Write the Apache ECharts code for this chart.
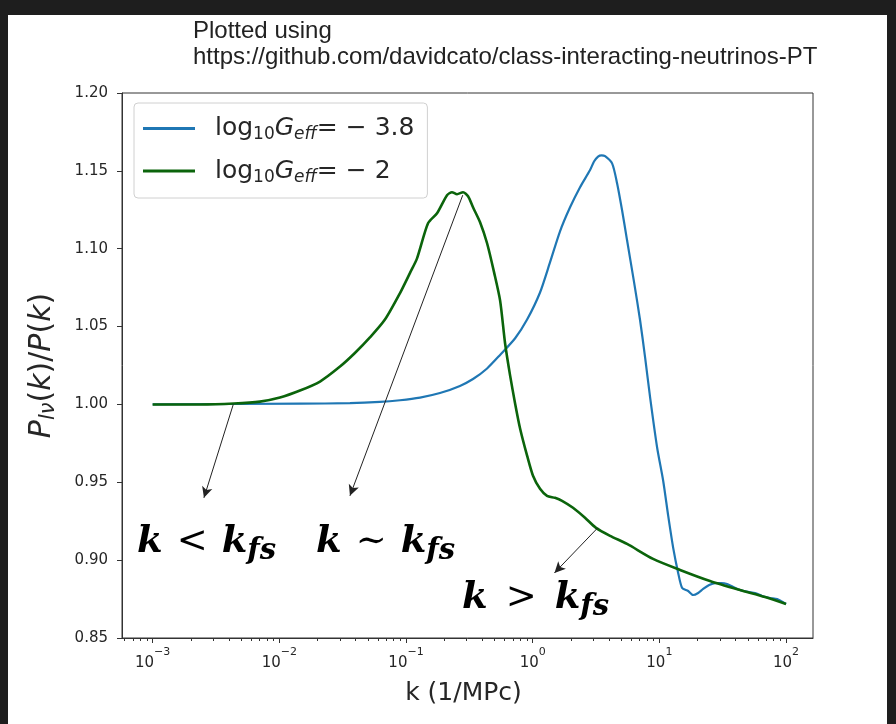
<!DOCTYPE html>
<html>
<head>
<meta charset="utf-8">
<script src="https://cdn.jsdelivr.net/npm/echarts@6/dist/echarts.min.js"></script>
<style>
  html, body { margin: 0; padding: 0; background: #1e1e1e; }
  #chart { width: 896px; height: 724px; }
</style>
</head>
<body>
<div id="chart"></div>
<script>
// log10 G_eff = -3.8 (blue)
const kBlue = [0.001, 0.01455, 0.0361, 0.0622, 0.0897, 0.1291, 0.1854, 0.2665, 0.3381, 0.4365, 0.553,
  0.727, 0.9036, 1.143, 1.37, 1.644, 1.973, 2.366, 2.838, 3.05, 3.281, 3.5,
  3.729, 4.236, 4.637, 5.079, 5.561, 6.319, 7.05, 7.722, 8.458, 9.61,
  10.72, 11.75, 12.86, 14.08, 15.14, 16.88, 18.49, 20.25, 22.18, 24.73,
  27.58, 30.8, 34.3, 38.3, 43.3, 50.2, 57.0, 64.7, 74.9, 85.1, 100]
const ratioBlue = [1.000, 1.0005, 1.0008, 1.0016, 1.0027, 1.0044, 1.0073, 1.0119, 1.0163, 1.0231, 1.0318,
  1.0425, 1.0545, 1.0719, 1.0912, 1.1112, 1.1266, 1.1395, 1.1505, 1.156, 1.1592, 1.16,
  1.1594, 1.1548, 1.1421, 1.1247, 1.1054, 1.0784, 1.0539, 1.0301, 1.0044, 0.9722,
  0.951, 0.9284, 0.9079, 0.8918, 0.8821, 0.8802, 0.8776, 0.8789, 0.8815, 0.884,
  0.8853, 0.8853, 0.8847, 0.8828, 0.8808, 0.8796, 0.8789, 0.877, 0.8757, 0.875, 0.8718]

// log10 G_eff = -2 (green)
const kGreen = [0.001, 0.00236, 0.00438, 0.00703, 0.01012, 0.01455, 0.02094, 0.03013, 0.0395, 0.0519,
  0.0682, 0.0897, 0.1076, 0.1222, 0.1493, 0.1758, 0.2109, 0.2307, 0.2529, 0.282,
  0.309, 0.3381, 0.3843, 0.4365, 0.4959, 0.553, 0.6058, 0.6637, 0.727, 0.7962,
  0.9036, 1.006, 1.143, 1.298, 1.5, 1.706, 2.081, 2.589, 3.162, 4.083,
  5.561, 8.92, 14.57, 25.1, 43.3, 68.3, 100]
const ratioGreen = [1.000, 1.000, 1.0006, 1.0018, 1.0044, 1.0089, 1.0147, 1.0243, 1.033, 1.043,
  1.0545, 1.0715, 1.0845, 1.0938, 1.1163, 1.1228, 1.1344, 1.1363, 1.135, 1.1363,
  1.1337, 1.1266, 1.117, 1.1035, 1.0848, 1.0668, 1.0391, 1.0185, 1.0005, 0.9844,
  0.9671, 0.9542, 0.9458, 0.9413, 0.94, 0.9381, 0.9336, 0.9272, 0.9207, 0.9156,
  0.9104, 0.9008, 0.8937, 0.8866, 0.8808, 0.8763, 0.8718]

const xMajor = [0.001, 0.01, 0.1, 1, 10, 100]
const xExp = ['−3', '−2', '−1', '0', '1', '2']
const yTicks = [0.85, 0.90, 0.95, 1.00, 1.05, 1.10, 1.15, 1.20]

// arrows: [k, ratio] tail -> head
const arrowTail = [[0.00433, 1.0], [0.2805, 1.1344], [3.26, 0.9207]]
const arrowHead = [[0.00254, 0.940], [0.0361, 0.9413], [1.486, 0.8918]]

const xMin = Math.pow(10, -3.242)
const xMax = Math.pow(10, 2.213)

const xMinor = []
for (let d = -4; d <= 2; d++) {
  for (let m = 2; m <= 9; m++) {
    const v = m * Math.pow(10, d)
    if (v > xMin && v < xMax) xMinor.push(v)
  }
}

const chart = echarts.init(document.getElementById('chart'))

const pairs = (xs, ys) => xs.map((x, i) => [x, ys[i]])

const txt = '#262626'

const subRich = {
  n: { fontFamily: 'DejaVu Sans', fontSize: 25, color: txt, lineHeight: 30 },
  sub: { fontFamily: 'DejaVu Sans', fontSize: 17, color: txt, lineHeight: 14, verticalAlign: 'bottom' },
  it: { fontFamily: 'DejaVu Sans', fontStyle: 'italic', fontSize: 25, color: txt, lineHeight: 30 },
  itsub: { fontFamily: 'DejaVu Sans', fontStyle: 'italic', fontSize: 17, color: txt, lineHeight: 14, verticalAlign: 'bottom' },
  gap: { width: 15 }
}

const mathFont = 'DejaVu Serif'
const mathRich = {
  k: { fontFamily: mathFont, fontStyle: 'italic', fontWeight: 'bold', fontSize: 37, color: '#111', lineHeight: 46 },
  op: { fontFamily: mathFont, fontSize: 37, color: '#111', lineHeight: 46, padding: [0, 14, 0, 14] },
  wide: { fontFamily: mathFont, fontSize: 37, color: '#111', lineHeight: 46, padding: [0, 18, 0, 18] },
  fs: { fontFamily: mathFont, fontStyle: 'italic', fontWeight: 'bold', fontSize: 29, color: '#111', lineHeight: 22, verticalAlign: 'bottom' }
}

const option = {
  animation: false,
  backgroundColor: '#1e1e1e',
  graphic: [
    { type: 'rect', z: -10, shape: { x: 8, y: 15, width: 879, height: 709 }, style: { fill: '#fff' } },
    { type: 'text', left: 193, top: 19, style: { text: 'Plotted using', font: '24px "Liberation Sans"', fill: '#222' } },
    { type: 'text', left: 193, top: 45, style: { text: 'https://github.com/davidcato/class-interacting-neutrinos-PT', font: '24px "Liberation Sans"', fill: '#222' } },
    { type: 'text', left: 137, top: 524, style: { text: '{k|k}{op|<}{k|k}{fs|fs}', rich: mathRich } },
    { type: 'text', left: 316, top: 524, style: { text: '{k|k}{op|∼}{k|k}{fs|fs}', rich: mathRich } },
    { type: 'text', left: 462, top: 580, style: { text: '{k|k}{wide|>}{k|k}{fs|fs}', rich: mathRich } }
  ],
  grid: { left: 122, top: 93, width: 691, height: 545, show: true, borderColor: '#333', borderWidth: 1, backgroundColor: '#fff' },
  legend: {
    orient: 'vertical',
    left: 134,
    top: 103,
    padding: [13, 13, 12, 9],
    itemGap: 15,
    itemWidth: 52,
    itemHeight: 3,
    icon: 'rect',
    backgroundColor: '#fff',
    borderColor: '#d0d0d0',
    borderWidth: 1,
    borderRadius: 4,
    data: ['blue', 'green'],
    formatter: name => name === 'blue'
      ? '{gap|}{n|log}{sub|10}{it|G}{itsub|eff}{n|= − 3.8}'
      : '{gap|}{n|log}{sub|10}{it|G}{itsub|eff}{n|= − 2}',
    textStyle: { rich: subRich }
  },
  xAxis: [
    {
      type: 'log',
      min: xMin,
      max: xMax,
      name: 'k (1/MPc)',
      nameLocation: 'middle',
      nameGap: 43,
      nameTextStyle: { fontFamily: 'DejaVu Sans', fontSize: 25, color: txt, padding: [0, 8, 0, 0] },
      axisLine: { onZero: false, lineStyle: { color: '#333', width: 1 } },
      axisTick: { customValues: xMajor, length: 5, lineStyle: { color: '#333' } },
      splitLine: { show: false },
      minorTick: { show: false },
      axisLabel: {
        customValues: xMajor,
        margin: 9,
        formatter: v => {
          const i = xMajor.findIndex(m => Math.abs(Math.log10(m) - Math.log10(v)) < 1e-6)
          return '{b|10}{e|' + xExp[i] + '}'
        },
        rich: {
          b: { fontFamily: 'DejaVu Sans', fontSize: 15, color: txt, lineHeight: 20, verticalAlign: 'bottom' },
          e: { fontFamily: 'DejaVu Sans', fontSize: 11, color: txt, lineHeight: 24, verticalAlign: 'top' }
        }
      }
    },
    {
      type: 'log',
      min: xMin,
      max: xMax,
      position: 'bottom',
      axisLine: { show: false },
      axisTick: { customValues: xMinor, length: 3, lineStyle: { color: '#333' } },
      axisLabel: { show: false },
      splitLine: { show: false }
    }
  ],
  yAxis: {
    type: 'value',
    min: 0.85,
    max: 1.20,
    interval: 0.05,
    name: '{i|P}{s|lν}{n|(}{i|k}{n|)/}{i|P}{n|(}{i|k}{n|)}',
    nameLocation: 'middle',
    nameRotate: 90,
    nameGap: 63,
    nameTextStyle: {
      rich: {
        i: { fontFamily: 'DejaVu Sans', fontStyle: 'italic', fontSize: 30, color: txt, lineHeight: 34 },
        n: { fontFamily: 'DejaVu Sans', fontSize: 30, color: txt, lineHeight: 34 },
        s: { fontFamily: 'DejaVu Sans', fontStyle: 'italic', fontSize: 21, color: txt, lineHeight: 17, verticalAlign: 'bottom' }
      }
    },
    axisLine: { show: true, lineStyle: { color: '#333', width: 1 } },
    axisTick: { show: true, length: 5, lineStyle: { color: '#333' } },
    splitLine: { show: false },
    axisLabel: {
      margin: 14,
      fontFamily: 'DejaVu Sans',
      fontSize: 15,
      color: txt,
      formatter: v => v.toFixed(2)
    }
  },
  series: [
    {
      name: 'blue',
      type: 'line',
      data: pairs(kBlue, ratioBlue),
      showSymbol: false,
      symbol: 'none',
      smooth: 0.25,
      itemStyle: { color: '#1f77b4' },
      lineStyle: { width: 2.2, color: '#1f77b4' }
    },
    {
      name: 'green',
      type: 'line',
      data: pairs(kGreen, ratioGreen),
      showSymbol: false,
      symbol: 'none',
      smooth: 0.25,
      itemStyle: { color: '#0b640b' },
      lineStyle: { width: 2.6, color: '#0b640b' },
      markLine: {
        silent: true,
        animation: false,
        symbol: ['none', 'arrow'],
        symbolSize: [8, 11],
        label: { show: false },
        lineStyle: { color: '#222', width: 1, type: 'solid' },
        data: arrowTail.map((t, i) => [{ coord: t }, { coord: arrowHead[i] }])
      }
    }
  ]
}

chart.setOption(option)
</script>
</body>
</html>
